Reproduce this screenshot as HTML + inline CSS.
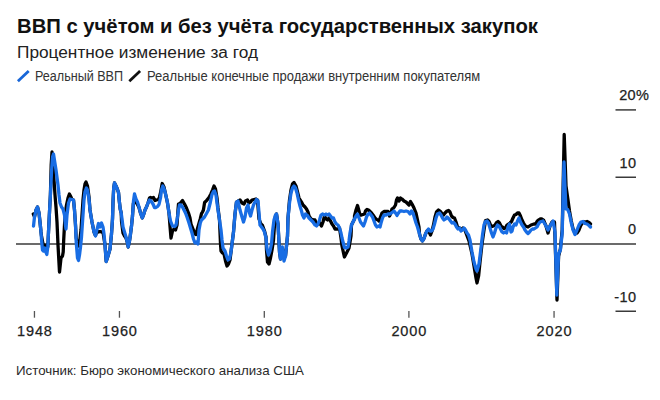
<!DOCTYPE html>
<html><head><meta charset="utf-8"><style>
html,body{margin:0;padding:0;background:#fff;}
body{width:660px;height:400px;position:relative;overflow:hidden;font-family:"Liberation Sans",sans-serif;}
.t{position:absolute;white-space:nowrap;line-height:1;}
#title{left:17.3px;top:15.7px;font-size:20.8px;font-weight:bold;color:#111;transform:scaleX(0.974);transform-origin:0 0;}
#sub{left:17px;top:43.6px;font-size:17.25px;color:#222;}
.leg{top:69.05px;font-size:14px;color:#333;transform-origin:0 0;}
#src{left:16px;top:363.7px;font-size:13.3px;color:#2a2a2a;}
.yl{color:#222;-webkit-text-stroke:0.25px #222;}
.xl{color:#222;-webkit-text-stroke:0.25px #222;}
</style></head><body>
<div class="t" id="title">ВВП с учётом и без учёта государственных закупок</div>
<div class="t" id="sub">Процентное изменение за год</div>
<svg style="position:absolute;left:0;top:0" width="660" height="400">
<line x1="17.9" y1="81.2" x2="28.7" y2="71.1" stroke="#1866d8" stroke-width="2.8"/>
<line x1="129.3" y1="81.2" x2="140.1" y2="71.1" stroke="#111" stroke-width="2.8"/>
<g stroke="#3a3a3a" stroke-width="1.5">
<line x1="16" y1="244.05" x2="636" y2="244.05"/>
<line x1="615.5" y1="109.9" x2="636" y2="109.9"/>
<line x1="615.5" y1="177.25" x2="636" y2="177.25"/>
<line x1="615.5" y1="311.25" x2="636" y2="311.25"/>
</g>
<g stroke="#555" stroke-width="1.3"><line x1="34.45" y1="311" x2="34.45" y2="317.7"/><line x1="119.45" y1="311" x2="119.45" y2="317.7"/><line x1="264.3" y1="311" x2="264.3" y2="317.7"/><line x1="408.9" y1="311" x2="408.9" y2="317.7"/><line x1="554.06" y1="311" x2="554.06" y2="317.7"/></g>
<path d="M33.3,214.0 L34.5,217.0 L36.0,210.0 L37.5,207.0 L39.0,213.0 L40.0,222.0 L41.0,232.0 L41.5,236.0 L43.0,244.0 L44.5,246.0 L46.0,246.0 L47.5,244.0 L47.8,247.0 L48.5,232.0 L49.6,210.0 L50.4,195.0 L50.4,195.0 L51.2,165.0 L52.0,152.0 L53.0,160.0 L54.0,180.0 L55.0,195.0 L56.0,207.0 L57.0,222.0 L58.0,245.0 L59.5,272.0 L61.0,258.0 L62.5,256.0 L63.2,252.0 L63.7,240.0 L64.5,225.0 L65.5,212.0 L66.5,205.0 L68.0,198.0 L69.4,194.0 L71.0,197.0 L72.0,199.5 L73.5,200.0 L74.5,210.0 L75.5,225.0 L76.2,238.0 L77.5,244.0 L78.5,246.0 L79.5,243.0 L81.0,230.0 L82.0,215.0 L83.0,200.0 L84.0,190.0 L85.0,184.0 L86.0,182.0 L87.5,186.0 L89.0,197.0 L90.0,210.0 L92.0,222.0 L94.0,232.0 L95.5,235.5 L97.0,231.0 L98.5,232.0 L100.0,231.5 L101.5,232.0 L103.0,232.0 L105.0,245.0 L106.2,261.5 L108.0,256.0 L110.0,249.0 L111.5,234.0 L112.5,219.0 L113.0,202.0 L113.7,188.0 L114.5,183.0 L116.0,186.0 L117.3,189.0 L118.5,192.5 L119.3,201.0 L120.2,209.0 L121.2,213.0 L121.5,221.0 L123.0,233.0 L124.5,236.0 L126.0,238.0 L127.5,243.0 L128.2,247.0 L129.5,241.0 L130.5,234.0 L131.5,226.0 L132.5,216.0 L133.3,204.0 L134.5,199.5 L135.5,200.5 L136.5,203.0 L138.0,205.5 L139.0,207.5 L140.5,213.0 L142.3,218.0 L143.8,214.0 L145.0,210.0 L146.5,207.0 L148.0,203.0 L149.5,198.0 L150.5,197.5 L152.0,198.0 L153.5,197.5 L155.0,200.5 L156.5,200.0 L158.5,199.5 L159.5,197.0 L160.5,193.0 L162.2,183.5 L164.0,187.0 L166.0,196.0 L167.5,203.0 L169.0,213.0 L170.0,226.0 L171.0,238.0 L172.5,231.0 L174.0,229.0 L175.5,230.0 L177.0,225.0 L178.0,210.0 L178.5,204.0 L180.0,203.5 L182.5,200.5 L184.5,204.0 L186.5,208.0 L188.5,213.0 L190.0,218.0 L191.0,224.0 L193.0,229.0 L195.0,234.0 L196.0,234.5 L197.8,227.5 L200.3,218.7 L201.5,213.7 L202.5,212.0 L203.4,210.0 L204.6,202.5 L206.5,200.6 L209.0,197.5 L211.0,193.7 L212.7,189.5 L214.0,186.0 L215.5,189.0 L217.0,198.0 L218.0,208.0 L219.5,220.0 L220.5,244.0 L221.0,251.0 L222.5,253.0 L224.0,254.0 L225.5,261.0 L227.0,266.0 L228.5,264.0 L230.0,260.0 L231.0,252.0 L232.0,244.0 L233.5,232.0 L235.0,214.0 L236.5,202.0 L238.0,201.0 L238.0,202.0 L240.0,200.0 L242.0,203.0 L244.0,204.0 L245.5,201.0 L247.5,200.0 L249.0,203.0 L250.5,202.0 L252.0,200.0 L254.0,199.5 L256.0,199.0 L257.5,200.0 L259.0,219.0 L261.0,224.0 L262.5,225.5 L264.5,231.0 L266.0,237.0 L266.5,250.0 L267.5,262.0 L269.0,264.0 L270.5,258.0 L272.0,250.0 L273.5,240.0 L274.5,225.0 L275.5,216.0 L276.5,214.0 L278.0,224.0 L279.5,252.0 L280.5,259.0 L281.5,252.0 L282.3,248.0 L283.0,252.0 L285.5,256.0 L286.5,246.0 L287.5,236.0 L288.0,218.0 L289.5,200.0 L291.0,190.0 L292.5,184.0 L294.0,182.5 L296.0,186.0 L297.5,192.0 L299.0,198.0 L301.5,202.0 L303.0,205.0 L305.0,207.0 L306.5,209.0 L308.0,212.0 L309.0,216.0 L311.0,219.0 L313.5,220.0 L315.0,220.0 L316.5,224.0 L318.5,224.0 L320.0,223.0 L321.5,226.0 L323.0,222.0 L324.5,216.0 L326.0,219.0 L327.5,220.0 L329.0,218.0 L330.5,221.0 L332.0,224.0 L333.5,226.0 L335.0,229.0 L336.5,229.0 L338.0,229.0 L339.5,228.0 L341.0,238.0 L342.0,246.0 L344.4,257.0 L347.0,252.0 L349.0,248.0 L351.0,236.0 L351.5,225.0 L353.0,222.0 L354.5,219.0 L354.5,216.0 L356.0,210.0 L357.5,205.5 L359.0,211.0 L360.0,215.0 L361.5,215.0 L363.0,214.5 L364.5,214.0 L365.5,211.0 L367.0,209.5 L368.5,210.0 L370.0,211.5 L371.5,213.0 L373.0,215.0 L375.0,218.0 L376.5,219.5 L378.0,220.0 L379.0,221.0 L380.5,217.0 L382.0,213.0 L384.0,211.5 L386.0,211.5 L388.0,211.5 L389.5,216.0 L390.5,214.0 L392.0,209.0 L394.0,207.5 L395.5,205.0 L396.5,200.0 L397.5,198.0 L399.0,201.0 L400.5,198.0 L402.0,199.0 L404.0,201.0 L406.0,202.0 L407.5,203.5 L409.0,205.0 L410.5,201.5 L412.0,204.0 L414.0,208.0 L416.0,213.0 L417.5,220.0 L419.0,227.0 L419.5,234.0 L421.0,239.0 L422.5,241.0 L424.0,238.5 L425.5,234.0 L427.0,231.0 L429.0,232.0 L430.5,235.0 L432.0,231.0 L433.5,225.0 L435.0,217.0 L436.5,212.0 L438.5,210.0 L440.0,211.0 L441.5,213.0 L443.5,215.0 L445.0,213.0 L447.0,211.0 L448.5,210.5 L450.0,212.0 L451.5,216.0 L453.0,217.5 L454.5,218.0 L456.0,222.0 L457.5,227.0 L459.5,228.0 L461.5,230.0 L463.0,228.0 L464.5,229.0 L466.0,233.0 L467.5,237.0 L469.0,241.0 L472.0,254.0 L474.0,266.0 L476.0,278.0 L477.0,283.0 L478.6,276.0 L480.0,262.0 L482.0,244.0 L484.0,230.0 L485.5,220.5 L487.5,220.0 L489.0,221.5 L490.5,225.0 L492.0,226.5 L493.5,226.0 L495.0,225.0 L496.5,222.5 L498.0,221.5 L499.5,223.0 L501.0,226.0 L502.5,227.0 L504.0,228.5 L505.5,228.0 L507.0,225.0 L508.5,224.0 L510.0,223.0 L511.5,221.5 L513.0,218.0 L514.5,215.0 L516.0,214.5 L517.5,213.0 L519.0,213.0 L520.5,216.0 L522.0,220.0 L523.5,223.0 L525.0,225.5 L526.5,226.5 L528.0,227.0 L529.5,226.0 L531.0,225.0 L532.5,224.5 L534.0,224.0 L535.5,224.0 L537.0,221.5 L538.5,220.0 L540.0,219.0 L542.0,219.0 L543.5,220.0 L546.0,226.0 L548.0,233.0 L550.0,226.0 L552.0,222.0 L554.5,222.0 L557.0,300.0 L558.6,256.0 L560.4,249.0 L562.2,230.0 L564.2,134.5 L566.0,186.0 L567.7,198.0 L569.5,211.0 L571.3,221.0 L573.1,229.0 L575.0,233.0 L577.0,233.0 L579.0,230.0 L581.0,225.0 L583.0,222.0 L585.0,222.0 L587.0,221.5 L589.0,222.5 L590.5,224.0" fill="none" stroke="#000" stroke-width="3.3" stroke-linejoin="round" stroke-linecap="round"/>
<path d="M33.5,226.0 L34.5,217.0 L36.0,210.0 L37.5,207.0 L39.0,213.0 L40.0,222.0 L41.0,232.0 L41.7,242.0 L42.5,250.0 L43.5,251.0 L44.8,248.0 L45.8,252.0 L46.8,254.5 L47.8,247.0 L48.5,232.0 L49.6,210.0 L50.4,195.0 L51.5,172.0 L52.5,157.0 L53.5,154.0 L56.0,170.0 L58.0,185.0 L59.0,195.0 L60.0,203.0 L61.5,207.0 L63.0,209.0 L64.5,215.0 L65.5,225.0 L66.0,229.0 L67.0,215.0 L68.5,203.0 L70.0,199.0 L72.0,199.5 L73.5,200.0 L74.5,210.0 L75.5,225.0 L76.2,242.0 L77.5,258.0 L78.5,260.5 L79.5,255.0 L80.5,247.0 L81.5,237.0 L83.0,215.0 L84.0,200.0 L85.0,192.0 L86.4,188.0 L87.5,190.0 L89.0,199.0 L90.0,210.0 L92.0,222.0 L94.0,232.0 L95.5,236.0 L97.0,229.5 L98.5,223.5 L100.0,227.0 L101.5,223.0 L103.0,227.0 L104.0,234.0 L105.0,245.0 L106.2,261.5 L108.0,256.0 L110.0,249.0 L111.5,234.0 L112.5,219.0 L113.0,202.0 L113.7,188.0 L114.5,183.0 L116.0,186.0 L117.3,189.0 L118.5,192.5 L119.3,201.0 L120.2,209.0 L121.2,213.0 L122.0,219.0 L123.0,227.0 L124.5,232.0 L126.0,237.0 L127.5,243.0 L128.2,247.0 L129.5,241.0 L130.5,234.0 L131.5,226.0 L132.5,216.0 L133.5,201.0 L134.5,194.0 L136.0,199.0 L137.5,202.0 L139.0,207.0 L140.5,213.0 L142.3,218.0 L143.8,214.0 L145.0,210.0 L146.5,207.0 L148.0,203.0 L149.5,200.0 L151.0,201.0 L153.0,204.0 L154.5,207.5 L156.0,207.5 L157.5,206.5 L159.0,204.5 L160.5,198.0 L161.5,190.0 L162.8,186.0 L164.5,190.0 L166.0,196.0 L167.5,203.0 L169.0,213.0 L170.5,221.0 L172.5,226.0 L174.5,226.5 L176.0,225.0 L177.5,217.0 L178.5,210.0 L179.5,205.0 L181.0,205.0 L182.5,207.0 L184.0,210.0 L185.5,213.0 L187.0,217.0 L189.0,223.0 L190.5,228.0 L192.0,233.0 L193.5,239.0 L195.0,243.0 L196.5,242.0 L198.0,244.0 L199.0,230.0 L200.3,223.0 L201.5,220.0 L203.0,218.5 L204.5,217.0 L206.5,213.5 L208.4,210.0 L210.3,202.5 L212.0,194.5 L213.5,191.5 L214.5,191.0 L216.0,195.0 L217.0,203.0 L218.0,210.0 L219.5,220.0 L221.0,230.0 L222.0,240.0 L223.0,248.0 L225.0,251.0 L226.5,256.0 L228.0,260.0 L229.5,259.0 L231.0,252.0 L232.0,244.0 L233.5,232.0 L235.0,214.0 L236.5,202.0 L238.0,201.0 L240.0,210.0 L242.0,217.0 L243.5,222.0 L245.0,217.0 L246.5,208.0 L248.0,205.0 L249.5,213.0 L250.5,216.0 L252.0,210.0 L253.5,205.0 L255.0,202.0 L256.5,199.5 L258.0,201.0 L259.0,213.0 L260.0,225.0 L261.5,227.0 L263.0,229.0 L264.5,232.0 L266.0,238.0 L267.0,249.0 L268.5,255.0 L270.0,251.0 L271.5,244.0 L272.5,232.0 L274.0,220.0 L275.5,215.0 L276.5,214.0 L278.0,224.0 L279.5,252.0 L280.5,259.0 L282.3,247.0 L283.0,254.0 L284.0,261.0 L285.5,256.0 L286.5,246.0 L287.5,236.0 L288.0,218.0 L289.5,203.0 L291.0,193.0 L292.5,188.0 L294.0,186.0 L295.5,188.0 L297.0,193.0 L298.5,200.0 L300.0,206.0 L301.5,211.0 L302.5,215.0 L304.0,218.0 L305.5,214.0 L307.0,215.0 L309.0,218.0 L311.0,220.0 L313.0,222.0 L315.0,225.0 L316.5,226.0 L318.0,224.0 L319.5,220.0 L321.0,215.0 L322.5,214.0 L324.5,215.0 L326.0,214.0 L327.5,215.0 L329.0,214.0 L330.5,216.0 L332.0,218.0 L333.5,218.0 L335.0,222.0 L336.5,224.0 L338.0,225.0 L339.5,228.0 L341.0,233.0 L342.0,238.0 L343.0,242.0 L344.5,247.5 L346.0,248.0 L348.0,247.0 L349.0,241.0 L350.0,233.0 L351.5,225.0 L353.0,222.0 L354.5,219.0 L356.0,216.0 L357.5,214.0 L359.0,218.0 L360.5,222.0 L362.0,224.0 L363.5,226.0 L365.0,222.0 L366.5,217.0 L368.0,214.0 L369.5,213.0 L371.0,215.0 L372.5,217.0 L374.0,221.0 L375.5,225.0 L377.0,227.0 L378.5,226.0 L380.0,227.0 L381.0,223.0 L382.5,218.0 L384.0,215.0 L386.0,215.0 L388.0,214.0 L390.0,214.0 L392.0,212.5 L394.0,211.0 L395.5,213.0 L397.0,215.5 L398.5,213.0 L400.0,211.0 L402.0,211.0 L404.0,211.5 L406.0,211.0 L408.0,211.5 L410.0,214.0 L411.5,211.0 L413.0,213.0 L414.5,218.0 L416.0,223.0 L417.5,227.0 L419.5,234.0 L421.0,239.0 L422.5,241.0 L424.0,238.5 L425.5,234.0 L427.0,231.0 L428.5,229.0 L430.0,231.0 L431.5,231.0 L433.0,229.0 L434.5,224.0 L436.0,218.0 L437.5,214.0 L439.5,213.0 L441.0,215.0 L442.5,218.0 L444.0,220.0 L445.5,219.0 L447.0,217.0 L449.0,219.0 L450.5,221.0 L452.0,223.0 L453.5,222.5 L455.0,224.0 L456.5,227.0 L458.0,229.0 L459.5,228.0 L461.0,231.0 L462.5,230.0 L464.0,228.0 L465.5,230.0 L467.0,233.0 L468.5,235.0 L470.0,240.0 L472.0,252.0 L474.0,262.0 L476.0,269.0 L477.0,271.0 L479.0,264.0 L481.0,248.0 L482.5,235.0 L484.0,225.0 L485.5,221.5 L487.0,221.0 L488.5,223.0 L490.0,228.0 L491.5,233.0 L493.0,237.0 L494.5,233.0 L496.0,228.0 L497.5,225.0 L499.0,226.0 L500.5,229.0 L502.0,232.0 L503.5,233.0 L505.0,232.0 L506.5,233.0 L508.0,227.0 L509.5,224.0 L511.0,232.0 L512.0,231.0 L513.0,227.0 L514.5,224.0 L516.0,225.0 L517.5,221.0 L519.0,218.0 L520.5,222.0 L522.0,225.0 L523.5,227.0 L525.0,230.0 L526.5,232.0 L528.0,233.5 L529.5,232.0 L531.0,230.0 L532.5,229.0 L534.0,229.0 L535.5,228.0 L537.0,227.0 L538.5,224.0 L540.0,222.0 L543.0,221.0 L545.5,225.0 L548.0,230.0 L550.0,226.0 L553.0,221.0 L555.0,232.0 L556.8,295.0 L558.6,254.0 L560.4,250.0 L562.2,233.0 L564.0,162.0 L565.9,209.0 L567.7,209.5 L569.5,214.0 L571.3,223.0 L573.1,230.0 L575.0,234.5 L577.0,230.0 L579.0,225.0 L581.0,222.0 L583.0,221.5 L585.0,223.5 L587.0,224.0 L589.0,225.5 L590.5,227.0" fill="none" stroke="#186de4" stroke-width="3.3" stroke-linejoin="round" stroke-linecap="round"/>
</svg>
<div class="t leg" style="left:35.3px;transform:scaleX(0.898)" id="l1">Реальный ВВП</div>
<div class="t leg" style="left:147.3px;transform:scaleX(0.929)" id="l2">Реальные конечные продажи внутренним покупателям</div>
<div class="t yl" style="left:589.40px;width:60px;text-align:right;top:88.2px;font-size:14.5px;letter-spacing:0.4px">20%</div>
<div class="t yl" style="left:576.40px;width:60px;text-align:right;top:155.7px;font-size:14.5px;letter-spacing:0.4px">10</div>
<div class="t yl" style="left:576.40px;width:60px;text-align:right;top:222.1px;font-size:14.5px;letter-spacing:0.4px">0</div>
<div class="t yl" style="left:576.40px;width:60px;text-align:right;top:289.7px;font-size:14.5px;letter-spacing:0.4px">-10</div>
<div class="t xl" style="left:-5.10px;width:80px;text-align:center;top:323.5px;font-size:14.5px;letter-spacing:0.9px">1948</div><div class="t xl" style="left:79.90px;width:80px;text-align:center;top:323.5px;font-size:14.5px;letter-spacing:0.9px">1960</div><div class="t xl" style="left:224.75px;width:80px;text-align:center;top:323.5px;font-size:14.5px;letter-spacing:0.9px">1980</div><div class="t xl" style="left:369.35px;width:80px;text-align:center;top:323.5px;font-size:14.5px;letter-spacing:0.9px">2000</div><div class="t xl" style="left:514.51px;width:80px;text-align:center;top:323.5px;font-size:14.5px;letter-spacing:0.9px">2020</div>
<div class="t" id="src">Источник: Бюро экономического анализа США</div>
</body></html>
